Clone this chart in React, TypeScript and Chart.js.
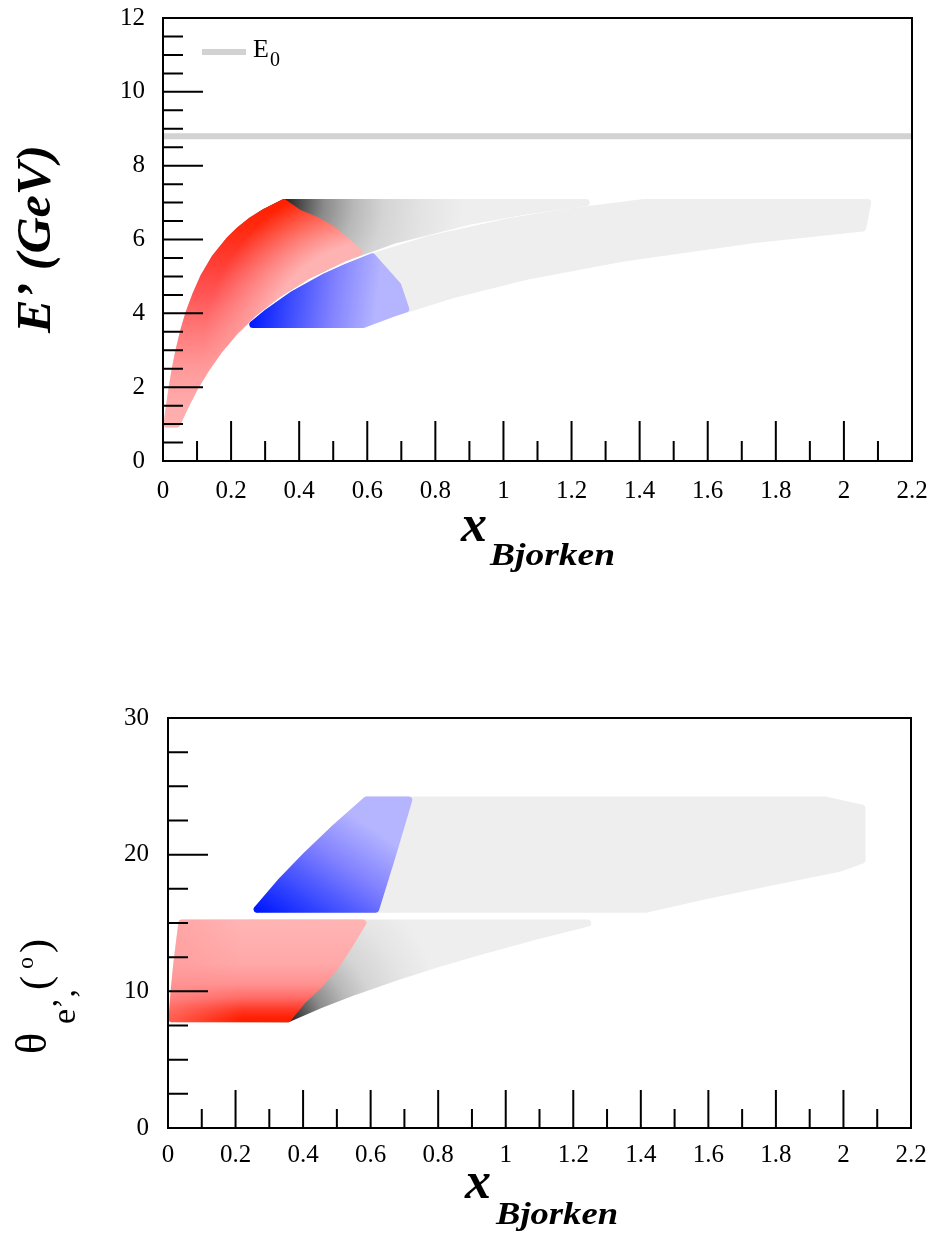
import React, { useEffect, useRef } from "react";
import { Chart, registerables } from "chart.js";

Chart.register(...registerables);

// ===================== Values =====================
const beamEnergy = 8.8; // E0 (GeV), grey reference line

const xTickValues = [0, 0.2, 0.4, 0.6, 0.8, 1, 1.2, 1.4, 1.6, 1.8, 2, 2.2];
const xTickLabels = ["0", "0.2", "0.4", "0.6", "0.8", "1", "1.2", "1.4", "1.6", "1.8", "2", "2.2"];
const ePrimeTickValues = [0, 2, 4, 6, 8, 10, 12];
const thetaTickValues = [0, 10, 20, 30];

// ---- Top panel : x_Bjorken vs E' (GeV) ----
// large-angle arm (light grey band)
const armBTopX = [0.264, 0.303, 0.38, 0.478, 0.606, 0.779, 1.027, 1.197, 1.413, 2.07, 2.055, 1.738, 1.352, 1.067, 0.849, 0.676, 0.588];
const armBTopE = [3.7, 4.0, 4.5, 5.0, 5.5, 6.0, 6.5, 6.75, 7.0, 7.0, 6.31, 6.0, 5.5, 5.0, 4.5, 4.0, 3.7];
// small-angle arm (grey, darkening to black at the corner)
const armATopX = [0.012, 0.019, 0.027, 0.036, 0.047, 0.06, 0.076, 0.096, 0.12, 0.152, 0.196, 0.224, 0.258, 0.301, 0.355, 1.243, 1.053, 0.903, 0.685, 0.533, 0.421, 0.335, 0.266, 0.211, 0.165, 0.127, 0.094, 0.066, 0.041];
const armATopE = [1.0, 1.5, 2.0, 2.5, 3.0, 3.5, 4.0, 4.5, 5.0, 5.5, 6.0, 6.25, 6.5, 6.75, 7.0, 7.0, 6.75, 6.5, 6.0, 5.5, 5.0, 4.5, 4.0, 3.5, 3.0, 2.5, 2.0, 1.5, 1.0];
// red region
const redTopX = [0.012, 0.019, 0.027, 0.036, 0.047, 0.06, 0.076, 0.096, 0.12, 0.152, 0.196, 0.224, 0.258, 0.301, 0.355, 0.4, 0.45, 0.495, 0.54, 0.576, 0.533, 0.421, 0.335, 0.266, 0.211, 0.165, 0.127, 0.094, 0.066, 0.041];
const redTopE = [1.0, 1.5, 2.0, 2.5, 3.0, 3.5, 4.0, 4.5, 5.0, 5.5, 6.0, 6.25, 6.5, 6.75, 7.0, 6.71, 6.52, 6.29, 5.95, 5.66, 5.5, 5.0, 4.5, 4.0, 3.5, 3.0, 2.5, 2.0, 1.5, 1.0];
// blue region
const blueTopX = [0.264, 0.588, 0.676, 0.713, 0.69, 0.615, 0.538, 0.478, 0.38, 0.303];
const blueTopE = [3.7, 3.7, 4.0, 4.12, 4.75, 5.53, 5.25, 5.0, 4.5, 4.0];

// ---- Bottom panel : x_Bjorken vs theta_e' (deg) ----
const armBBotX = [0.264, 1.413, 1.594, 1.786, 1.988, 2.055, 2.055, 1.945, 0.588, 0.496, 0.411, 0.333];
const armBBotT = [16, 16, 17, 18, 19, 19.6, 23.4, 24, 24, 22, 20, 18];
const armABotX = [0.012, 0.355, 0.449, 0.554, 0.67, 0.797, 0.935, 1.084, 1.243, 0.041, 0.026, 0.018];
const armABotT = [8, 8, 9, 10, 11, 12, 13, 14, 15, 15, 12, 10];
const redBotX = [0.012, 0.355, 0.4, 0.45, 0.495, 0.54, 0.577, 0.041, 0.026, 0.018];
const redBotT = [8, 8, 9.36, 10.5, 11.8, 13.5, 15, 15, 12, 10];
const blueBotX = [0.264, 0.615, 0.665, 0.713, 0.588, 0.496, 0.411, 0.333];
const blueBotT = [16, 16, 20, 24, 24, 22, 20, 18];

// ===================== Helpers =====================
const SERIF = '"Liberation Serif", "Times New Roman", serif';
const W = 935;

type Stop = [number, string];
type Layer =
  | { kind: "linear"; x0: number; y0: number; x1: number; y1: number; stops: Stop[] }
  | { kind: "radial"; cx: number; cy: number; r: number; stops: Stop[] };

function toPx(chart: any, x: number, y: number): [number, number] {
  return [chart.scales.x.getPixelForValue(x), chart.scales.y.getPixelForValue(y)];
}

// Builds a colour field (one or more stacked gradients) and hands it to Chart.js as a pattern,
// so fill and border share exactly the same colours.
function paint(layers: Layer[], fallback: string) {
  const cache = new WeakMap<any, CanvasPattern | string>();
  return (c: any) => {
    const chart = c.chart;
    if (!chart || !chart.chartArea || !chart.scales.x) return fallback;
    const hit = cache.get(chart);
    if (hit) return hit;
    const off = document.createElement("canvas");
    off.width = chart.width;
    off.height = chart.height;
    const o = off.getContext("2d") as CanvasRenderingContext2D;
    for (const L of layers) {
      let g: CanvasGradient;
      if (L.kind === "linear") {
        const [X0, Y0] = toPx(chart, L.x0, L.y0);
        const [X1, Y1] = toPx(chart, L.x1, L.y1);
        g = o.createLinearGradient(X0, Y0, X1, Y1);
      } else {
        const [X, Y] = toPx(chart, L.cx, L.cy);
        g = o.createRadialGradient(X, Y, 0, X, Y, L.r);
      }
      L.stops.forEach(([p, col]) => g.addColorStop(p, col));
      o.fillStyle = g;
      o.fillRect(0, 0, off.width, off.height);
    }
    const pat = chart.ctx.createPattern(off, "no-repeat") || fallback;
    cache.set(chart, pat);
    return pat;
  };
}

function poly(xs: number[], ys: number[], style: any, order: number, border = 7) {
  const data = xs.map((x, i) => ({ x, y: ys[i] }));
  data.push({ ...data[0] });
  return {
    data,
    order,
    fill: "shape",
    backgroundColor: style,
    borderColor: style,
    borderWidth: border,
    borderJoinStyle: "round",
    borderCapStyle: "round",
    pointRadius: 0,
    tension: 0,
    clip: 0,
  };
}

function text(
  ctx: CanvasRenderingContext2D,
  s: string,
  x: number,
  y: number,
  font: string,
  align: CanvasTextAlign = "left",
  baseline: CanvasTextBaseline = "alphabetic",
  width?: number,
  rotate = false
) {
  ctx.save();
  ctx.font = font;
  ctx.fillStyle = "#000";
  const w = ctx.measureText(s).width;
  const sx = width ? width / w : 1;
  ctx.translate(x, y);
  if (rotate) ctx.rotate(-Math.PI / 2);
  ctx.scale(sx, 1);
  ctx.textAlign = align;
  ctx.textBaseline = baseline;
  ctx.fillText(s, 0, 0);
  ctx.restore();
}

interface AxisSpec {
  yStep: number;
  yCount: number;
  yMajorEvery: number;
  yMajorLen: number;
  yMinorLen: number;
  xMajorLen: number;
  xMinorLen: number;
}

function drawFrame(chart: any, a: AxisSpec) {
  const { ctx, chartArea: area, scales } = chart;
  ctx.save();
  ctx.strokeStyle = "#000";
  ctx.lineWidth = 2;
  ctx.lineCap = "butt";
  ctx.beginPath();
  for (let i = 0; i <= 22; i++) {
    const X = scales.x.getPixelForValue(i * 0.1);
    const len = i % 2 === 0 ? a.xMajorLen : a.xMinorLen;
    ctx.moveTo(X, area.bottom);
    ctx.lineTo(X, area.bottom - len);
  }
  for (let i = 0; i <= a.yCount; i++) {
    const Y = scales.y.getPixelForValue(i * a.yStep);
    const len = i % a.yMajorEvery === 0 ? a.yMajorLen : a.yMinorLen;
    ctx.moveTo(area.left, Y);
    ctx.lineTo(area.left + len, Y);
  }
  ctx.stroke();
  ctx.strokeRect(area.left, area.top, area.right - area.left, area.bottom - area.top);
  ctx.restore();
}

const grayStops: Stop[] = [
  [0, "#1e1e1e"],
  [0.08, "#4a4a4a"],
  [0.2, "#8a8a8a"],
  [0.35, "#b8b8b8"],
  [0.5, "#d4d4d4"],
  [0.7, "#e4e4e4"],
  [0.9, "#eeeeee"],
  [1, "#eeeeee"],
];
const blueStops: Stop[] = [
  [0, "#0018ff"],
  [0.3, "#3a4aff"],
  [0.65, "#8282ff"],
  [1, "#b4b4ff"],
];

// ===================== Panels =====================
function topConfig(): any {
  const datasets = [
    {
      label: "E0",
      data: [
        { x: 0, y: beamEnergy },
        { x: 2.2, y: beamEnergy },
      ],
      order: 0,
      borderColor: "#d2d2d2",
      borderWidth: 6,
      pointRadius: 0,
      fill: false,
      clip: 0,
    },
    poly(blueTopX, blueTopE, paint([{ kind: "linear", x0: 0.26, y0: 4.2, x1: 0.62, y1: 3.75, stops: blueStops }], "#6a6aff"), 1),
    poly(
      redTopX,
      redTopE,
      paint(
        [
          {
            kind: "linear",
            x0: 0.2, y0: 7.0, x1: 0.2, y1: 1.0,
            stops: [
              [0, "#ff2000"],
              [0.117, "#ff2a10"],
              [0.25, "#ff3a30"],
              [0.417, "#ff5656"],
              [0.583, "#ff7a7a"],
              [0.75, "#ff9a9a"],
              [0.917, "#ffabab"],
              [1, "#ffb0b0"],
            ],
          },
          {
            kind: "radial",
            cx: 0.62, cy: 3.0, r: 180,
            stops: [
              [0, "rgba(255,178,178,1)"],
              [0.6, "rgba(255,178,178,1)"],
              [0.95, "rgba(255,178,178,0)"],
              [1, "rgba(255,178,178,0)"],
            ],
          },
        ],
        "#ff6060"
      ),
      2
    ),
    poly(armATopX, armATopE, paint([{ kind: "radial", cx: 0.355, cy: 7.0, r: 200, stops: grayStops }], "#dddddd"), 4),
    poly(armBTopX, armBTopE, "#eeeeee", 5),
  ];
  const axis: AxisSpec = { yStep: 0.5, yCount: 24, yMajorEvery: 4, yMajorLen: 40, yMinorLen: 20, xMajorLen: 40, xMinorLen: 20 };
  const decor = {
    id: "decorTop",
    afterDraw(chart: any) {
      const { ctx, scales } = chart;
      drawFrame(chart, axis);
      const f = `25px ${SERIF}`;
      ePrimeTickValues.forEach((v) => text(ctx, String(v), 145, scales.y.getPixelForValue(v), f, "right", "middle"));
      xTickValues.forEach((v, i) => text(ctx, xTickLabels[i], scales.x.getPixelForValue(v), 491, f, "center", "middle"));
      // axis titles
      text(ctx, "x", 461, 541, `bold italic 52px ${SERIF}`);
      text(ctx, "Bjorken", 490, 565, `bold italic 32px ${SERIF}`, "left", "alphabetic", 125);
      text(ctx, "E\u2019 (GeV)", 50, 333, `bold italic 48px ${SERIF}`, "left", "alphabetic", 188, true);
      // legend
      ctx.save();
      ctx.strokeStyle = "#d2d2d2";
      ctx.lineWidth = 6;
      ctx.beginPath();
      ctx.moveTo(202, 52);
      ctx.lineTo(246, 52);
      ctx.stroke();
      ctx.restore();
      text(ctx, "E", 253, 57, `26px ${SERIF}`);
      text(ctx, "0", 270, 66, `20px ${SERIF}`);
    },
  };
  return {
    type: "line",
    data: { datasets },
    options: {
      responsive: false,
      animation: false,
      devicePixelRatio: 1,
      events: [],
      layout: { padding: { left: 163, top: 18, right: W - 912, bottom: 610 - 461 } },
      scales: {
        x: { type: "linear", min: 0, max: 2.2, display: false },
        y: { type: "linear", min: 0, max: 12, display: false },
      },
      plugins: { legend: { display: false }, tooltip: { enabled: false } },
    },
    plugins: [decor],
  };
}

function bottomConfig(): any {
  const datasets = [
    poly(blueBotX, blueBotT, paint([{ kind: "linear", x0: 0.26, y0: 16, x1: 0.478, y1: 24, stops: blueStops }], "#6a6aff"), 1),
    poly(
      redBotX,
      redBotT,
      paint(
        [
          {
            kind: "linear",
            x0: 0.2, y0: 8, x1: 0.2, y1: 15,
            stops: [
              [0, "#ff1e00"],
              [0.1, "#ff3a28"],
              [0.214, "#ff6a64"],
              [0.357, "#ff9090"],
              [0.571, "#ffa8a8"],
              [1, "#ffb4b4"],
            ],
          },
          {
            kind: "linear",
            x0: 0, y0: 8, x1: 0.22, y1: 8,
            stops: [
              [0, "rgba(255,150,150,0.55)"],
              [1, "rgba(255,150,150,0)"],
            ],
          },
        ],
        "#ff8080"
      ),
      2
    ),
    poly(armABotX, armABotT, paint([{ kind: "radial", cx: 0.355, cy: 8, r: 170, stops: grayStops }], "#dddddd"), 4),
    poly(armBBotX, armBBotT, "#eeeeee", 5),
  ];
  const axis: AxisSpec = { yStep: 2.5, yCount: 12, yMajorEvery: 4, yMajorLen: 40, yMinorLen: 20, xMajorLen: 38, xMinorLen: 19 };
  const off = 610;
  const decor = {
    id: "decorBottom",
    afterDraw(chart: any) {
      const { ctx, scales } = chart;
      drawFrame(chart, axis);
      const f = `25px ${SERIF}`;
      thetaTickValues.forEach((v) => text(ctx, String(v), 149, scales.y.getPixelForValue(v), f, "right", "middle"));
      xTickValues.forEach((v, i) => text(ctx, xTickLabels[i], scales.x.getPixelForValue(v), 1155 - off, f, "center", "middle"));
      text(ctx, "x", 465, 1198 - off, `bold italic 52px ${SERIF}`);
      text(ctx, "Bjorken", 496, 1224 - off, `bold italic 32px ${SERIF}`, "left", "alphabetic", 122);
      // theta_e', (o)
      text(ctx, "\u03b8", 46, 1054 - off, `44px ${SERIF}`, "left", "alphabetic", undefined, true);
      text(ctx, "e\u2019,", 75, 1024 - off, `34px ${SERIF}`, "left", "alphabetic", undefined, true);
      text(ctx, "(", 49, 990 - off, `42px ${SERIF}`, "left", "alphabetic", undefined, true);
      text(ctx, "o", 33, 969 - off, `24px ${SERIF}`, "left", "alphabetic", undefined, true);
      text(ctx, ")", 49, 953 - off, `42px ${SERIF}`, "left", "alphabetic", undefined, true);
    },
  };
  return {
    type: "line",
    data: { datasets },
    options: {
      responsive: false,
      animation: false,
      devicePixelRatio: 1,
      events: [],
      layout: { padding: { left: 168, top: 718 - off, right: W - 911, bottom: 1238 - 1128 } },
      scales: {
        x: { type: "linear", min: 0, max: 2.2, display: false },
        y: { type: "linear", min: 0, max: 30, display: false },
      },
      plugins: { legend: { display: false }, tooltip: { enabled: false } },
    },
    plugins: [decor],
  };
}

function Panel({ make, top, height }: { make: () => any; top: number; height: number }) {
  const ref = useRef<HTMLCanvasElement>(null);
  useEffect(() => {
    const chart = new Chart(ref.current as HTMLCanvasElement, make());
    return () => chart.destroy();
  }, [make]);
  return (
    <canvas
      ref={ref}
      width={W}
      height={height}
      style={{ position: "absolute", left: 0, top, width: W, height, display: "block" }}
    />
  );
}

export default function App() {
  return (
    <div style={{ position: "absolute", left: 0, top: 0, width: W, height: 1238, background: "#fff", overflow: "hidden" }}>
      <Panel make={topConfig} top={0} height={610} />
      <Panel make={bottomConfig} top={610} height={628} />
    </div>
  );
}
